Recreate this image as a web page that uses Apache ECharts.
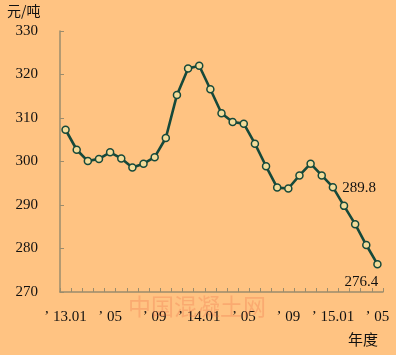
<!DOCTYPE html>
<html>
<head>
<meta charset="utf-8">
<script src="https://cdn.jsdelivr.net/npm/echarts@6/dist/echarts.min.js"></script>
<style>
html,body{margin:0;padding:0;background:#FFC382;}
#c{width:396px;height:355px;}
</style>
</head>
<body>
<div id="c"></div>
<script>
// months 2013.01 .. 2015.05
var months = ['2013-01','2013-02','2013-03','2013-04','2013-05','2013-06','2013-07','2013-08','2013-09','2013-10','2013-11','2013-12',
              '2014-01','2014-02','2014-03','2014-04','2014-05','2014-06','2014-07','2014-08','2014-09','2014-10','2014-11','2014-12',
              '2015-01','2015-02','2015-03','2015-04','2015-05'];
var prices = [307.3, 302.7, 300.1, 300.6, 302.1, 300.7, 298.6, 299.5, 301.0, 305.4, 315.3, 321.4,
              322.0, 316.6, 311.1, 309.1, 308.7, 304.1, 298.9, 294.0, 293.8, 296.8, 299.5, 296.8,
              294.1, 289.8, 285.6, 280.8, 276.4];
var yTicks = [270, 280, 290, 300, 310, 320, 330];
var unitText = '元/吨';
var xName = '年度';
var watermark = '中国混凝土网';

var lineColor = '#16493a';
var axisColor = '#9b8c6c';
var serif = '"Liberation Serif","DejaVu Serif",serif';

var seriesData = prices.map(function (v, i) {
  var item = {value: v};
  if (i === 25) {
    item.label = {show: true, position: 'right', offset: [-11, -18], formatter: '{c}'};
  } else if (i === 28) {
    item.label = {show: true, position: 'bottom', offset: [-16, 1], formatter: '{c}'};
  }
  return item;
});

var chart = echarts.init(document.getElementById('c'), null, {renderer: 'canvas'});
chart.setOption({
  backgroundColor: '#FFC382',
  animation: false,
  grid: {left: 60, right: 13, top: 31, bottom: 63, containLabel: false},
  xAxis: {
    type: 'category',
    data: months,
    boundaryGap: true,
    axisLine: {lineStyle: {color: axisColor, width: 1.5}},
    axisTick: {show: true, inside: true, length: 4, interval: 0, lineStyle: {color: axisColor}},
    axisLabel: {
      interval: 3,
      margin: 18,
      color: '#111',
      fontFamily: serif,
      fontSize: 15,
      formatter: function (v) {
        var p = v.split('-');
        if (p[1] === '01') return '’ ' + p[0].slice(2) + '.01';
        return '’ ' + p[1];
      }
    },
    splitLine: {show: false}
  },
  yAxis: {
    type: 'value',
    min: yTicks[0],
    max: yTicks[yTicks.length - 1],
    interval: 10,
    axisLine: {show: true, lineStyle: {color: axisColor, width: 1.5}},
    axisTick: {show: true, inside: true, length: 4, lineStyle: {color: axisColor}},
    axisLabel: {margin: 22, color: '#111', fontFamily: serif, fontSize: 15},
    splitLine: {show: false}
  },
  graphic: [
    {type: 'text', left: 7, top: 4, style: {text: unitText, fontSize: 14, fontFamily: '"Noto Sans CJK SC"', fill: '#111'}},
    {type: 'text', left: 348, top: 332, style: {text: xName, fontSize: 15, fontFamily: '"Noto Sans CJK SC"', fill: '#111'}},
    {type: 'text', left: 128, top: 295, z: 100, style: {text: watermark, fontSize: 23, fontFamily: '"Noto Sans CJK SC"', fill: 'rgba(235,95,60,0.25)'}}
  ],
  series: [{
    type: 'line',
    data: seriesData,
    symbol: 'circle',
    symbolSize: 7,
    lineStyle: {color: lineColor, width: 2.6},
    itemStyle: {color: '#f3dc9a', borderColor: lineColor, borderWidth: 1.5},
    label: {show: false, color: '#111', fontFamily: serif, fontSize: 15},
    emphasis: {disabled: true}
  }]
});
</script>
</body>
</html>
